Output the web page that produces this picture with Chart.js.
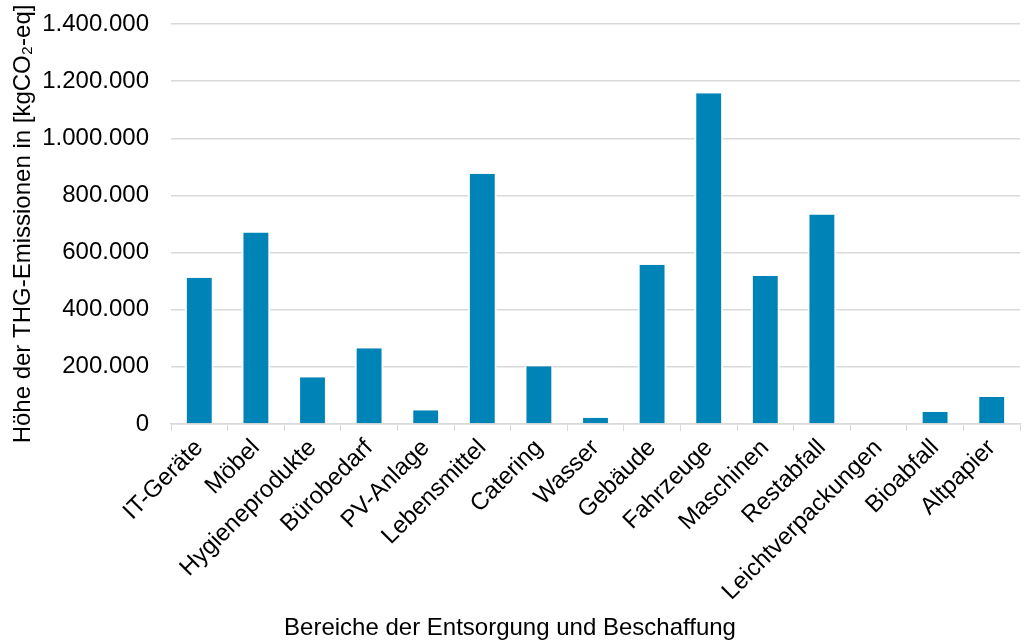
<!DOCTYPE html>
<html lang="de">
<head>
<meta charset="utf-8">
<script src="https://cdn.jsdelivr.net/npm/chart.js@4"></script>
<style>
  html, body { margin: 0; padding: 0; background: #fff; }
  #wrap { width: 1028px; height: 643px; }
</style>
</head>
<body>
<div id="wrap"><canvas id="emissionsChart"></canvas></div>
<script>
const categories = ["IT-Geräte", "Möbel", "Hygieneprodukte", "Bürobedarf", "PV-Anlage",
    "Lebensmittel", "Catering", "Wasser", "Gebäude", "Fahrzeuge", "Maschinen",
    "Restabfall", "Leichtverpackungen", "Bioabfall", "Altpapier"];
const emissions = [512000, 670000, 163000, 265000, 48000, 876000, 202000, 22000,
    557000, 1158000, 518000, 733000, 0, 42000, 94000];
const yTicks = [0, 200000, 400000, 600000, 800000, 1000000, 1200000, 1400000];

const fmt = (v) => String(v).replace(/\B(?=(\d{3})+(?!\d))/g, ".");
const font = { family: "'Liberation Sans', Arial, sans-serif", size: 24 };

document.addEventListener("DOMContentLoaded", () => {
    const ctx = document.getElementById("emissionsChart");
    new Chart(ctx, {
        type: "bar",
        data: {
            labels: categories,
            datasets: [
                {
                    data: emissions,
                    backgroundColor: "#0084b7",
                    borderColor: "#ffffff",
                    borderWidth: { left: 2, right: 2, top: 0, bottom: 0 },
                    borderSkipped: false,
                    barPercentage: 0.51,
                    categoryPercentage: 1,
                },
            ],
        },
        options: {
            responsive: true,
            maintainAspectRatio: false,
            animation: false,
            layout: { padding: { top: 0, right: 8, bottom: 0, left: 0 } },
            plugins: {
                legend: { display: false },
                tooltip: { enabled: false },
                // x axis title is centred on the whole figure, not the plot area
                title: {
                    display: true,
                    position: "bottom",
                    text: "Bereiche der Entsorgung und Beschaffung",
                    color: "#000",
                    font: { ...font, weight: "normal" },
                    padding: { top: 5, bottom: 0 },
                },
            },
            scales: {
                x: {
                    grid: { drawOnChartArea: false, drawTicks: true, tickLength: 7, color: "#d9d9d9" },
                    border: { color: "#d9d9d9", width: 1.5 },
                    ticks: { color: "#000", font: font, minRotation: 45, maxRotation: 45, padding: 3, autoSkip: false },
                },
                y: {
                    min: 0,
                    max: yTicks[yTicks.length - 1],
                    afterBuildTicks: (axis) => { axis.ticks = yTicks.map((v) => ({ value: v })); },
                    afterFit: (axis) => {
                        axis.width = 171;
                        axis.paddingTop = 24;
                        axis.paddingBottom = 0;
                    },
                    grid: { color: "#d9d9d9", lineWidth: 1.5, drawTicks: false },
                    border: { display: false },
                    ticks: { color: "#000", font: font, padding: 22, callback: (v) => fmt(v) },
                    title: { display: true, text: "Höhe der THG-Emissionen in [kgCO₂-eq]", color: "#000", font: font, padding: { top: 9, bottom: 0 } },
                },
            },
        },
    });
});
</script>
</body>
</html>
